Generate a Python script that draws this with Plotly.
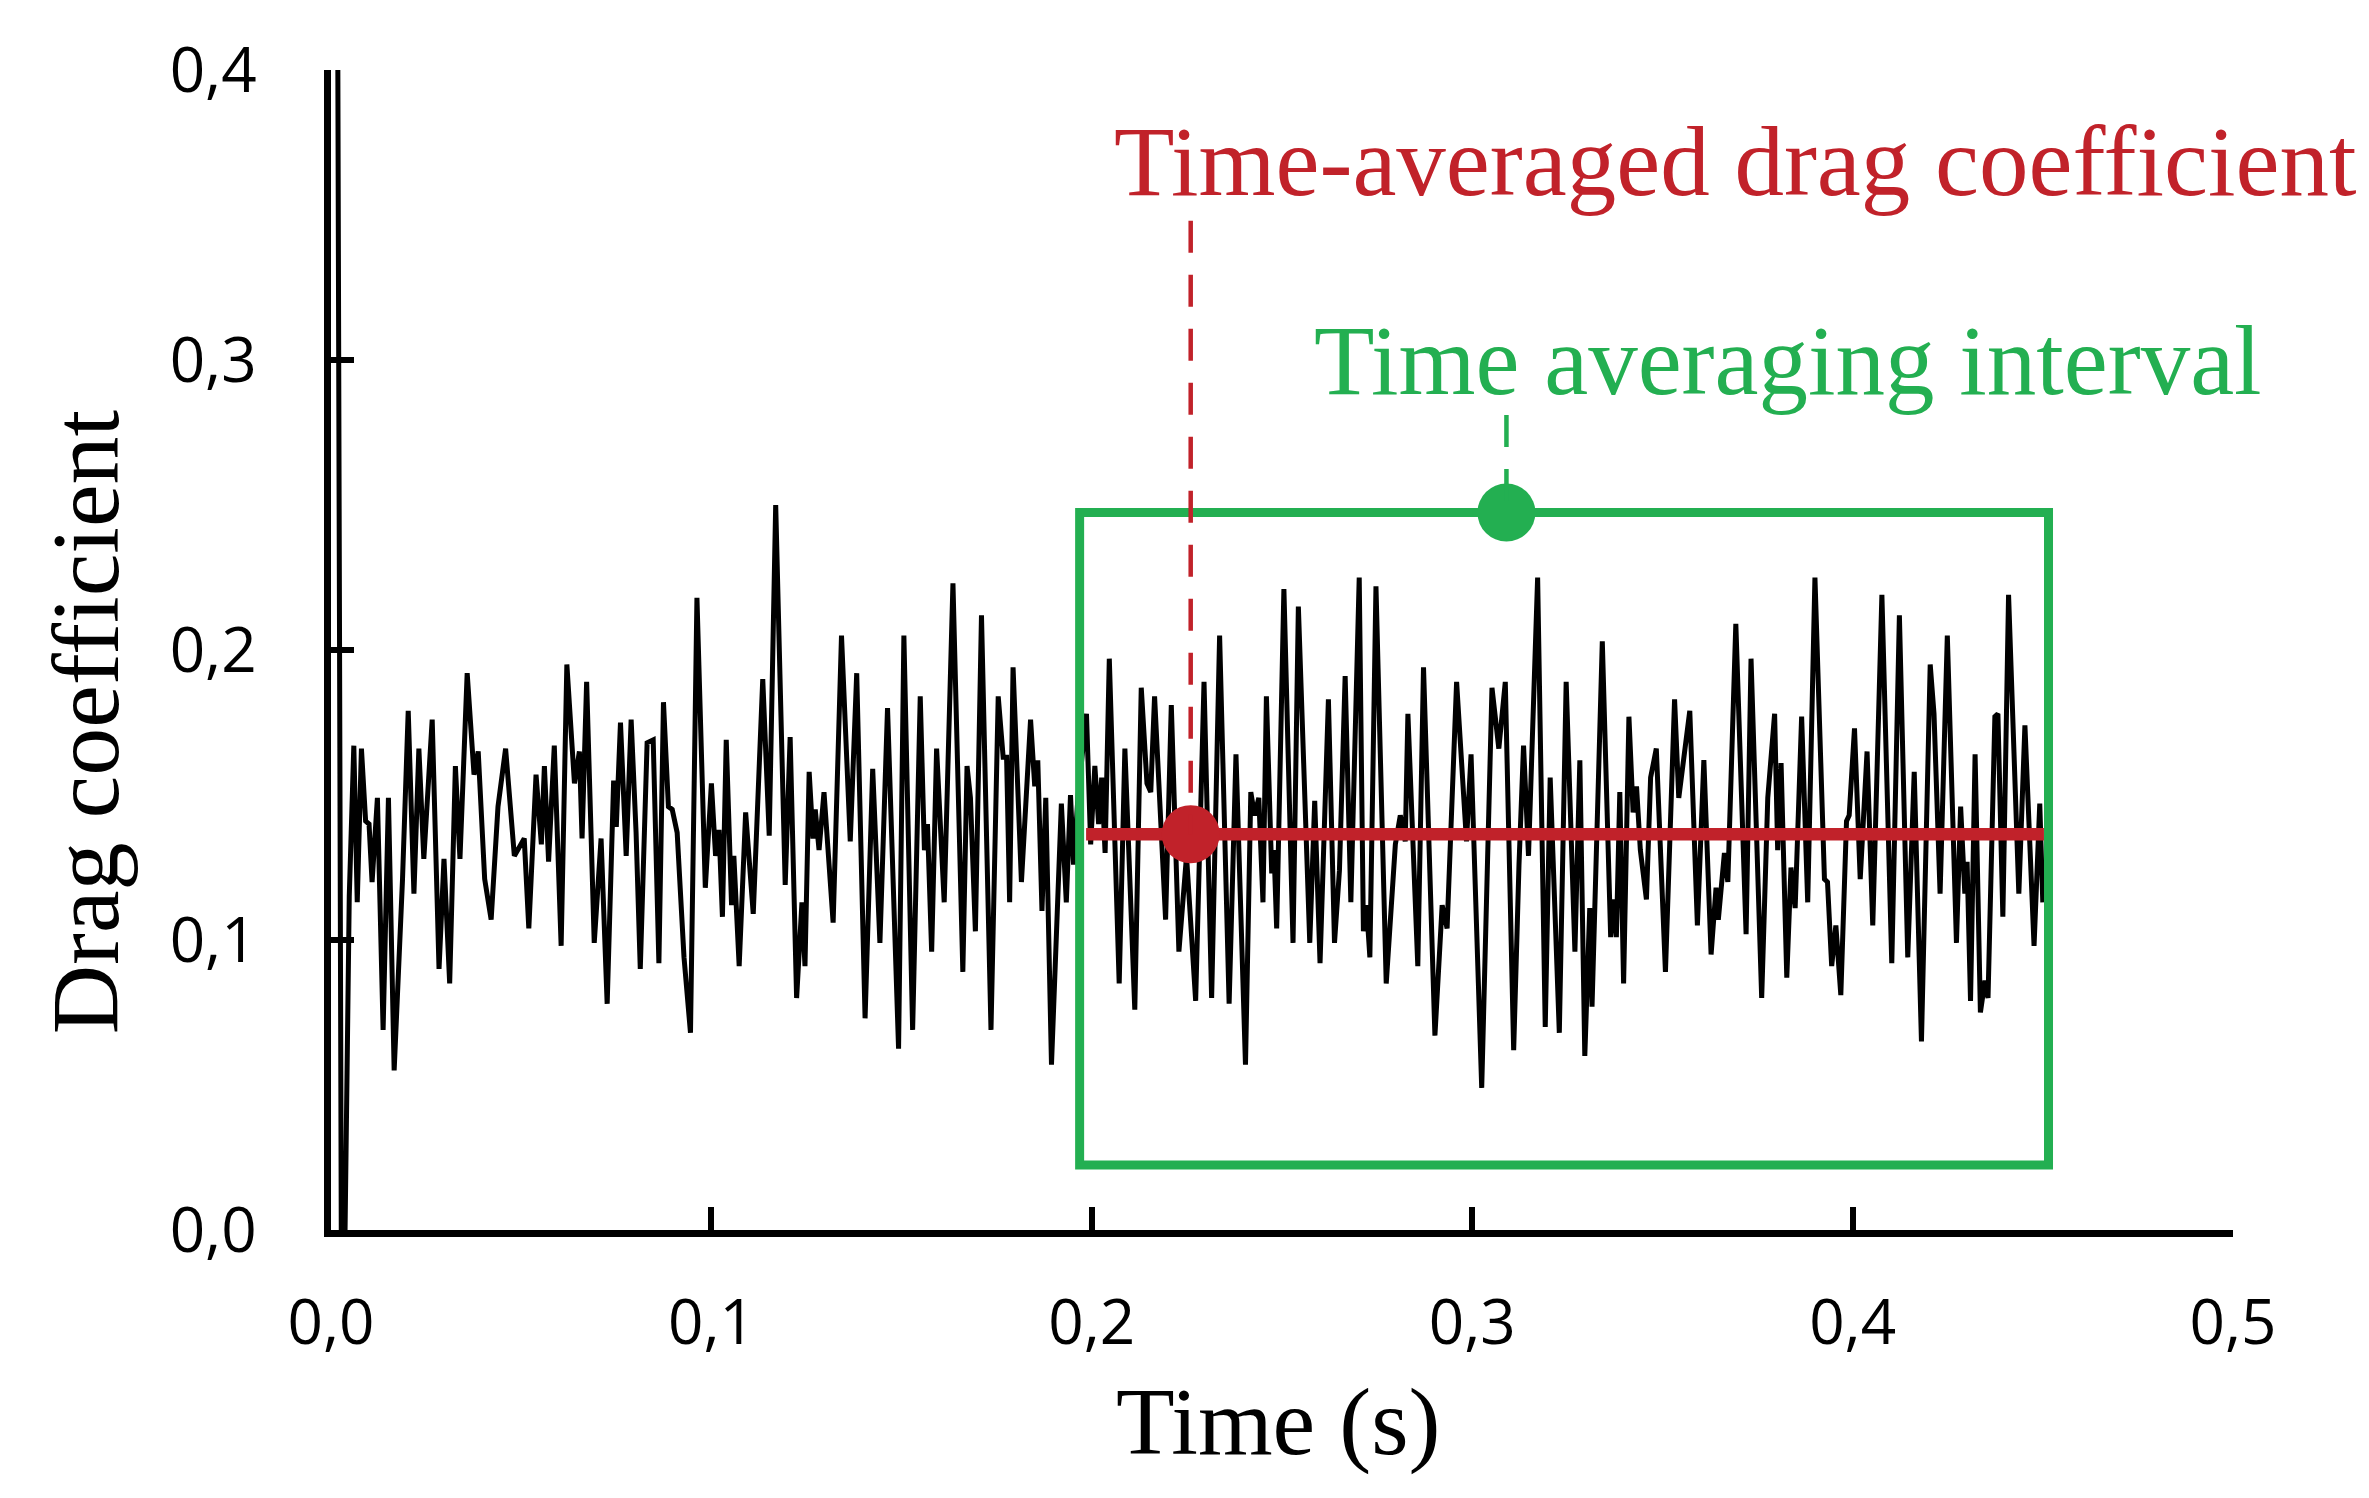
import plotly.graph_objects as go

# drag coefficient signal (time in s)
time_s = [
    0.0018, 0.0027, 0.0037, 0.0048, 0.0060, 0.0069, 0.0080, 0.0091, 0.0100, 0.0108,
    0.0122, 0.0137, 0.0151, 0.0166, 0.0188, 0.0203, 0.0218, 0.0231, 0.0244, 0.0266,
    0.0284, 0.0297, 0.0312, 0.0327, 0.0339, 0.0358, 0.0376, 0.0387, 0.0404, 0.0421,
    0.0439, 0.0459, 0.0482, 0.0508, 0.0520, 0.0539, 0.0553, 0.0561, 0.0572, 0.0587,
    0.0605, 0.0620, 0.0640, 0.0653, 0.0660, 0.0672, 0.0692, 0.0710, 0.0726, 0.0743,
    0.0750, 0.0761, 0.0776, 0.0789, 0.0802, 0.0813, 0.0831, 0.0847, 0.0862, 0.0874,
    0.0887, 0.0897, 0.0910, 0.0928, 0.0945, 0.0962, 0.0984, 0.1000, 0.1011, 0.1020,
    0.1029, 0.1039, 0.1053, 0.1059, 0.1073, 0.1090, 0.1110, 0.1135, 0.1152, 0.1169,
    0.1194, 0.1207, 0.1224, 0.1238, 0.1246, 0.1257, 0.1267, 0.1273, 0.1283, 0.1296,
    0.1320, 0.1342, 0.1365, 0.1382, 0.1404, 0.1424, 0.1443, 0.1463, 0.1492, 0.1506,
    0.1529, 0.1549, 0.1560, 0.1568, 0.1579, 0.1592, 0.1612, 0.1635, 0.1661, 0.1672,
    0.1681, 0.1694, 0.1710, 0.1735, 0.1754, 0.1767, 0.1776, 0.1784, 0.1793, 0.1815,
    0.1839, 0.1850, 0.1858, 0.1869, 0.1879, 0.1894, 0.1920, 0.1933, 0.1944, 0.1952,
    0.1964, 0.1986, 0.1997, 0.2008, 0.2018, 0.2026, 0.2035, 0.2046, 0.2072, 0.2087,
    0.2113, 0.2130, 0.2145, 0.2155, 0.2165, 0.2194, 0.2209, 0.2229, 0.2249, 0.2273,
    0.2295, 0.2315, 0.2336, 0.2361, 0.2379, 0.2404, 0.2418, 0.2428, 0.2439, 0.2450,
    0.2459, 0.2473, 0.2479, 0.2486, 0.2505, 0.2529, 0.2543, 0.2559, 0.2573, 0.2586,
    0.2600, 0.2622, 0.2638, 0.2651, 0.2666, 0.2681, 0.2703, 0.2714, 0.2722, 0.2731,
    0.2747, 0.2774, 0.2798, 0.2811, 0.2824, 0.2831, 0.2857, 0.2872, 0.2902, 0.2921,
    0.2934, 0.2959, 0.2985, 0.2997, 0.3025, 0.3052, 0.3070, 0.3087, 0.3109, 0.3123,
    0.3135, 0.3148, 0.3172, 0.3192, 0.3205, 0.3229, 0.3247, 0.3270, 0.3283, 0.3296,
    0.3309, 0.3315, 0.3342, 0.3364, 0.3372, 0.3379, 0.3388, 0.3398, 0.3412, 0.3423,
    0.3432, 0.3442, 0.3458, 0.3469, 0.3484, 0.3508, 0.3532, 0.3543, 0.3556, 0.3572,
    0.3592, 0.3609, 0.3628, 0.3641, 0.3647, 0.3663, 0.3672, 0.3693, 0.3720, 0.3733,
    0.3761, 0.3777, 0.3795, 0.3803, 0.3812, 0.3827, 0.3838, 0.3849, 0.3866, 0.3882,
    0.3901, 0.3926, 0.3934, 0.3945, 0.3956, 0.3969, 0.3984, 0.3991, 0.4005, 0.4020,
    0.4038, 0.4053, 0.4077, 0.4103, 0.4123, 0.4145, 0.4162, 0.4181, 0.4204, 0.4214,
    0.4230, 0.4249, 0.4273, 0.4284, 0.4295, 0.4301, 0.4310, 0.4322, 0.4336, 0.4348,
    0.4356, 0.4374, 0.4382, 0.4395, 0.4410, 0.4437, 0.4453, 0.4477, 0.4492, 0.4500,
]
drag_coef = [
    0.400, 0.000, 0.000, 0.115, 0.167, 0.113, 0.166, 0.141, 0.140, 0.120,
    0.149, 0.069, 0.149, 0.055, 0.121, 0.179, 0.116, 0.166, 0.128, 0.176,
    0.090, 0.128, 0.085, 0.160, 0.128, 0.192, 0.157, 0.165, 0.121, 0.107,
    0.146, 0.166, 0.129, 0.135, 0.104, 0.157, 0.133, 0.160, 0.127, 0.167,
    0.098, 0.195, 0.154, 0.165, 0.135, 0.189, 0.099, 0.135, 0.078, 0.155,
    0.139, 0.175, 0.129, 0.176, 0.137, 0.090, 0.168, 0.169, 0.092, 0.182,
    0.146, 0.145, 0.137, 0.094, 0.068, 0.218, 0.118, 0.154, 0.129, 0.138,
    0.108, 0.169, 0.112, 0.129, 0.091, 0.144, 0.109, 0.190, 0.136, 0.250,
    0.119, 0.170, 0.080, 0.113, 0.091, 0.158, 0.135, 0.145, 0.131, 0.151,
    0.106, 0.205, 0.134, 0.192, 0.073, 0.159, 0.099, 0.180, 0.0625, 0.205,
    0.069, 0.184, 0.131, 0.140, 0.096, 0.166, 0.113, 0.223, 0.089, 0.160,
    0.149, 0.103, 0.212, 0.069, 0.184, 0.163, 0.163, 0.113, 0.194, 0.120,
    0.176, 0.153, 0.162, 0.110, 0.149, 0.057, 0.147, 0.113, 0.150, 0.126,
    0.150, 0.178, 0.133, 0.160, 0.140, 0.156, 0.130, 0.197, 0.085, 0.166,
    0.076, 0.187, 0.154, 0.151, 0.184, 0.107, 0.181, 0.096, 0.129, 0.079,
    0.189, 0.080, 0.205, 0.078, 0.164, 0.057, 0.151, 0.143, 0.149, 0.113,
    0.184, 0.123, 0.131, 0.104, 0.221, 0.099, 0.215, 0.154, 0.099, 0.148,
    0.092, 0.183, 0.099, 0.124, 0.191, 0.113, 0.225, 0.103, 0.112, 0.094,
    0.222, 0.085, 0.133, 0.143, 0.134, 0.178, 0.091, 0.194, 0.067, 0.112,
    0.104, 0.189, 0.134, 0.164, 0.049, 0.187, 0.166, 0.189, 0.062, 0.126,
    0.167, 0.129, 0.225, 0.070, 0.156, 0.068, 0.189, 0.096, 0.162, 0.060,
    0.111, 0.077, 0.203, 0.101, 0.114, 0.101, 0.151, 0.085, 0.177, 0.144,
    0.153, 0.131, 0.114, 0.156, 0.166, 0.089, 0.183, 0.149, 0.163, 0.179,
    0.105, 0.162, 0.095, 0.118, 0.107, 0.130, 0.120, 0.209, 0.102, 0.197,
    0.080, 0.149, 0.178, 0.131, 0.161, 0.087, 0.125, 0.111, 0.177, 0.113,
    0.225, 0.121, 0.120, 0.091, 0.105, 0.081, 0.141, 0.143, 0.173, 0.121,
    0.165, 0.105, 0.219, 0.092, 0.212, 0.094, 0.158, 0.065, 0.195, 0.178,
    0.116, 0.205, 0.099, 0.146, 0.116, 0.127, 0.079, 0.164, 0.075, 0.086,
    0.080, 0.177, 0.178, 0.108, 0.219, 0.116, 0.174, 0.098, 0.147, 0.113,
]

# averaging window and mean value
window_t = [0.1968, 0.4515]
window_cd = [0.0224, 0.2474]
mean_line_t = [0.1985, 0.4503]
mean_cd = 0.1365
red_dot_t = 0.2260
green_dot_t = 0.3090

x_ticks = [0.0, 0.1, 0.2, 0.3, 0.4, 0.5]
x_labels = ['0,0', '0,1', '0,2', '0,3', '0,4', '0,5']
y_ticks = [0.0, 0.1, 0.2, 0.3, 0.4]
y_labels = ['0,0', '0,1', '0,2', '0,3', '0,4']

RED = '#C1222A'
GREEN = '#23AF51'
SERIF = 'Liberation Serif'

fig = go.Figure()

fig.add_trace(go.Scatter(
    x=time_s, y=drag_coef, mode='lines',
    line=dict(color='black', width=5),
    cliponaxis=False,
))

# averaging interval box
fig.add_shape(type='rect', xref='x', yref='y',
              x0=window_t[0], x1=window_t[1], y0=window_cd[0], y1=window_cd[1],
              line=dict(color=GREEN, width=9))

# mean line
fig.add_trace(go.Scatter(
    x=mean_line_t, y=[mean_cd, mean_cd], mode='lines',
    line=dict(color=RED, width=12.5),
))

# leader lines
fig.add_shape(type='line', xref='x', yref='y',
              x0=red_dot_t, x1=red_dot_t, y0=0.348, y1=mean_cd,
              line=dict(color=RED, width=4.5, dash='32px,22px'))
fig.add_shape(type='line', xref='x', yref='y',
              x0=green_dot_t, x1=green_dot_t, y0=0.281, y1=window_cd[1],
              line=dict(color=GREEN, width=4.5, dash='32px,22px'))

fig.add_trace(go.Scatter(
    x=[red_dot_t], y=[mean_cd], mode='markers',
    marker=dict(color=RED, size=58, line=dict(width=0)),
))
fig.add_trace(go.Scatter(
    x=[green_dot_t], y=[window_cd[1]], mode='markers',
    marker=dict(color=GREEN, size=58, line=dict(width=0)),
))

fig.add_annotation(x=0.2053, y=0.3686, xref='x', yref='y',
                   text='Time-averaged drag coefficient', showarrow=False,
                   xanchor='left', yanchor='middle',
                   font=dict(family=SERIF, size=99, color=RED))
fig.add_annotation(x=0.2579, y=0.2997, xref='x', yref='y',
                   text='Time averaging interval', showarrow=False,
                   xanchor='left', yanchor='middle',
                   font=dict(family=SERIF, size=99, color=GREEN))

# axis titles
fig.add_annotation(x=0.4984, y=-0.165, xref='paper', yref='paper',
                   text='Time (s)', showarrow=False,
                   xanchor='center', yanchor='middle',
                   font=dict(family=SERIF, size=96, color='black'))
fig.add_annotation(x=-0.1293, y=0.4377, xref='paper', yref='paper',
                   text='Drag coefficient', showarrow=False, textangle=-90,
                   xanchor='center', yanchor='middle',
                   font=dict(family=SERIF, size=96, color='black'))

axis_style = dict(
    showline=True, linecolor='black', linewidth=7,
    showgrid=False, zeroline=False,
    ticks='inside', ticklen=23, tickwidth=6, tickcolor='black',
    tickfont=dict(family='Open Sans', size=62, color='black'),
)
fig.update_xaxes(range=[0, 0.5], tickvals=x_ticks, ticktext=x_labels,
                 ticklabelstandoff=33, **axis_style)
fig.update_yaxes(range=[0, 0.4], tickvals=y_ticks, ticktext=y_labels,
                 ticklabelstandoff=55, **axis_style)

fig.update_layout(
    width=2369, height=1498,
    margin=dict(l=323, r=144, t=62, b=276),
    showlegend=False,
    plot_bgcolor='white',
    paper_bgcolor='white',
)

fig.write_html("out.html")
